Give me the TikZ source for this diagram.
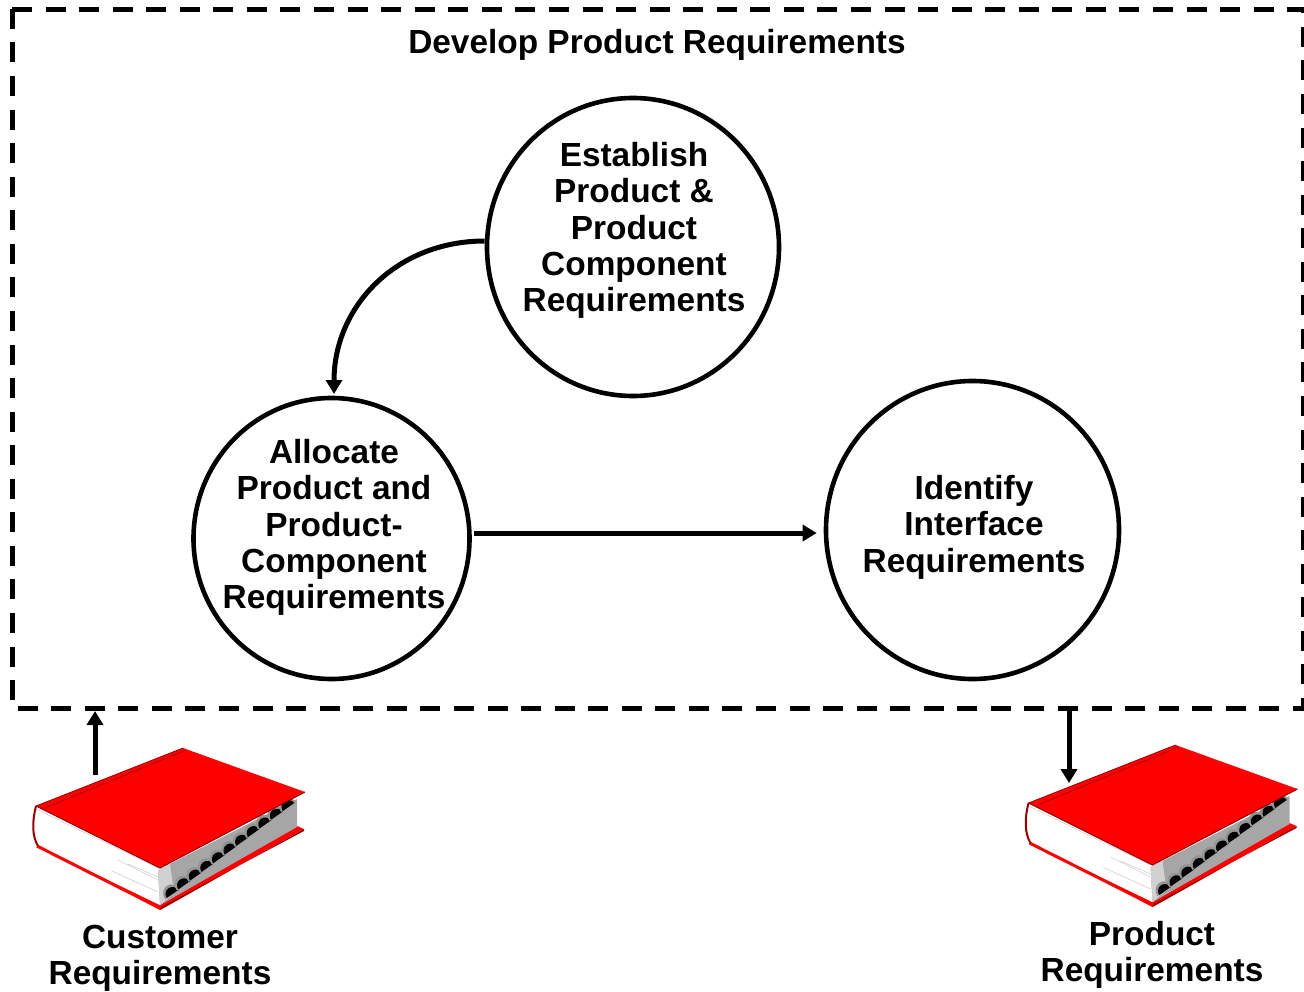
\documentclass[tikz,border=0pt]{standalone}
\usepackage{fontspec}
\setmainfont{Liberation Sans}
\usetikzlibrary{shapes.geometric, arrows.meta}
\definecolor{bookred}{RGB}{255,0,0}
\definecolor{bookdark}{RGB}{150,0,0}
\definecolor{edgegrey}{RGB}{166,166,166}
\tikzstyle{process} = [ellipse, draw, line width=4.6pt, inner sep=0pt, fill=white]
\tikzstyle{reqtext} = [align=center, inner sep=0pt, font=\fontsize{33.4}{36.4}\selectfont\bfseries]
\tikzstyle{boundary} = [line width=5pt, dash pattern=on 20pt off 13.56pt]
\tikzstyle{arrow} = [line width=5pt,->,>={Triangle[length=14pt,width=16pt]}]
\tikzset{
  book/.pic={
    \fill[bookred] (37,-845) -- (160,-910) -- (304,-829) -- (297,-826) -- (160,-905) -- cycle;
    \fill[bookdark] (160,-910) -- (304,-829) -- (304,-831) -- (161,-907) -- cycle;
    \fill[white] (36,-808) -- (160,-868) -- (160,-905) -- (37,-846) -- cycle;
    \fill[edgegrey] (158,-870) -- (297,-799) -- (297,-827) -- (160,-905) -- cycle;
    \fill[black!18] (158,-870) -- (170,-864) -- (174,-893) -- (160,-905) -- cycle;
    \draw[black!25, line width=0.4pt] (112,-871) -- (158,-892) (118,-860) -- (158,-880) (128,-864) -- (158,-877) (36,-809) -- (158,-868);
    \draw[bookred, line width=3pt] (37,-846) -- (160,-908);
    \draw[bookdark, line width=2pt] (36,-806) .. controls (32,-822) and (32,-836) .. (38,-846);
    \foreach \i in {0,...,10} {
      \fill[black!42, rotate around={35:({172.5+11.6*\i},{-894+8.7*\i})}] ({163.5+11.6*\i},{-894+8.7*\i}) arc (180:0:9 and 10) -- cycle;
      \fill[black, rotate around={35:({172.5+11.6*\i},{-894+8.7*\i})}] ({165.5+11.6*\i},{-894+8.7*\i}) arc (180:0:7 and 7) -- cycle;
    }
    \fill[bookred] (36,-806) -- (183,-748) -- (305,-792) -- (160,-868) -- cycle;
    \draw[bookdark, line width=0.8pt] (36,-806) -- (183,-748);
    \draw[bookdark, line width=0.6pt] (45,-808) -- (186,-750);
    \draw[bookdark, line width=1pt] (305,-792) -- (160,-868) -- (36,-806);
  }
}
\begin{document}
\begin{tikzpicture}[x=1pt, y=1pt]
        \useasboundingbox (0,0) rectangle (1304,-991);
        \draw [boundary] (12,-9) -- (1303,-9) -- (1303,-708) -- (12,-708) -- cycle;
        \node [reqtext] at (657,-44.5) (title) {Develop Product Requirements};
        \node [process, minimum width=292pt, minimum height=298pt] at (633,-247) (establish) {};
        \node [process, minimum width=276pt, minimum height=281pt] at (331.5,-538.5) (allocate) {};
        \node [process, minimum width=293pt, minimum height=298pt] at (972.5,-530) (identify) {};
        \node [reqtext] at (634,-230.5) (establishtext) {Establish\\Product \&\\Product\\Component\\Requirements};
        \node [reqtext] at (334,-527.5) (allocatetext) {Allocate\\Product and\\Product-\\Component\\Requirements};
        \node [reqtext] at (974,-527) (identifytext) {Identify\\Interface\\Requirements};
        \pic at (0,0) {book};
        \pic at (992.5,3) {book};
        \node [reqtext] at (160,-958) (customer) {Customer\\Requirements};
        \node [reqtext] at (1152,-955) (product) {Product\\Requirements};
        \coordinate (customerbook) at (95,-775);
        \coordinate (customerin) at (95,-711);
        \coordinate (productout) at (1069,-711);
        \coordinate (productbook) at (1069,-783);
        \coordinate (curvein) at (334,-394);
        \draw [arrow] (establish.west |- 0,-241) to[out=180, in=90, looseness=1.05] (curvein);
        \draw [arrow, shorten <=2.5pt, shorten >=7pt] (allocate.east |- 0,-533) -- (identify.west |- 0,-533);
        \draw [arrow] (customerbook) -- (customerin);
        \draw [arrow] (productout) -- (productbook);
\end{tikzpicture}
\end{document}
